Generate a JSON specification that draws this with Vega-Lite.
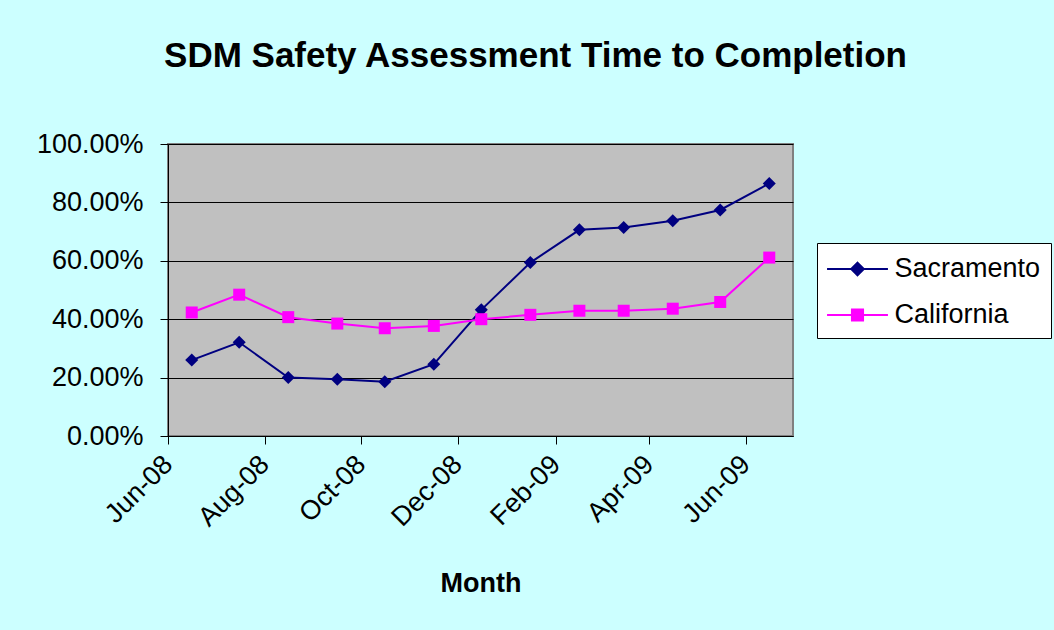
{
  "$schema": "https://vega.github.io/schema/vega-lite/v6.json",
  "width": 625,
  "height": 292,
  "autosize": {"type": "none"},
  "padding": {"left": 168, "top": 144, "right": 261, "bottom": 194},
  "background": "#CCFFFF",
  "title": {
    "text": "SDM Safety Assessment Time to Completion",
    "font": "Liberation Sans",
    "fontSize": 35,
    "fontWeight": "bold",
    "color": "black",
    "anchor": "middle",
    "frame": "group",
    "baseline": "alphabetic",
    "offset": 28,
    "dx": 55
  },
  "data": {
    "values": [
      {"month": "2008-06-16T00:00:00", "region": "Sacramento", "pct": 0.260},
      {"month": "2008-07-16T00:00:00", "region": "Sacramento", "pct": 0.321},
      {"month": "2008-08-16T00:00:00", "region": "Sacramento", "pct": 0.200},
      {"month": "2008-09-16T00:00:00", "region": "Sacramento", "pct": 0.194},
      {"month": "2008-10-16T00:00:00", "region": "Sacramento", "pct": 0.186},
      {"month": "2008-11-16T00:00:00", "region": "Sacramento", "pct": 0.246},
      {"month": "2008-12-16T00:00:00", "region": "Sacramento", "pct": 0.432},
      {"month": "2009-01-16T00:00:00", "region": "Sacramento", "pct": 0.594},
      {"month": "2009-02-16T00:00:00", "region": "Sacramento", "pct": 0.706},
      {"month": "2009-03-16T00:00:00", "region": "Sacramento", "pct": 0.714},
      {"month": "2009-04-16T00:00:00", "region": "Sacramento", "pct": 0.737},
      {"month": "2009-05-16T00:00:00", "region": "Sacramento", "pct": 0.774},
      {"month": "2009-06-16T00:00:00", "region": "Sacramento", "pct": 0.865},
      {"month": "2008-06-16T00:00:00", "region": "California", "pct": 0.423},
      {"month": "2008-07-16T00:00:00", "region": "California", "pct": 0.484},
      {"month": "2008-08-16T00:00:00", "region": "California", "pct": 0.407},
      {"month": "2008-09-16T00:00:00", "region": "California", "pct": 0.385},
      {"month": "2008-10-16T00:00:00", "region": "California", "pct": 0.369},
      {"month": "2008-11-16T00:00:00", "region": "California", "pct": 0.377},
      {"month": "2008-12-16T00:00:00", "region": "California", "pct": 0.400},
      {"month": "2009-01-16T00:00:00", "region": "California", "pct": 0.415},
      {"month": "2009-02-16T00:00:00", "region": "California", "pct": 0.429},
      {"month": "2009-03-16T00:00:00", "region": "California", "pct": 0.429},
      {"month": "2009-04-16T00:00:00", "region": "California", "pct": 0.436},
      {"month": "2009-05-16T00:00:00", "region": "California", "pct": 0.459},
      {"month": "2009-06-16T00:00:00", "region": "California", "pct": 0.611}
    ]
  },
  "encoding": {
    "x": {
      "field": "month",
      "type": "temporal",
      "title": "Month",
      "scale": {"domain": [{"year": 2008, "month": 6, "date": 1}, {"year": 2009, "month": 7, "date": 1}]},
      "axis": {
        "values": [
          {"year": 2008, "month": 6, "date": 1},
          {"year": 2008, "month": 8, "date": 1},
          {"year": 2008, "month": 10, "date": 1},
          {"year": 2008, "month": 12, "date": 1},
          {"year": 2009, "month": 2, "date": 1},
          {"year": 2009, "month": 4, "date": 1},
          {"year": 2009, "month": 6, "date": 1}
        ],
        "format": "%b-%y",
        "labelAngle": -45,
        "labelAlign": "right",
        "labelBaseline": "middle",
        "labelPadding": 16,
        "labelFontSize": 27,
        "labelFont": "Liberation Sans",
        "labelColor": "black",
        "tickSize": 8,
        "tickColor": "black",
        "domainColor": "black",
        "grid": false,
        "labelFlush": false,
        "labelOverlap": false,
        "titleFont": "Liberation Sans",
        "titleFontSize": 27,
        "titleFontWeight": "bold",
        "titleColor": "black",
        "titleBaseline": "alphabetic",
        "titleY": 155
      }
    },
    "y": {
      "field": "pct",
      "type": "quantitative",
      "title": null,
      "scale": {"domain": [0, 1], "nice": false, "zero": true},
      "axis": {
        "values": [0, 0.2, 0.4, 0.6, 0.8, 1.0],
        "format": ".2%",
        "labelFontSize": 27,
        "labelFont": "Liberation Sans",
        "labelColor": "black",
        "labelPadding": 17,
        "tickSize": 8,
        "tickColor": "black",
        "domainColor": "black",
        "grid": true,
        "gridColor": "black",
        "gridWidth": 1,
        "gridOpacity": 1
      }
    },
    "color": {
      "field": "region",
      "type": "nominal",
      "scale": {"domain": ["Sacramento", "California"], "range": ["#000080", "#FF00FF"]},
      "legend": {
        "orient": "none",
        "legendX": 649,
        "legendY": 99,
        "title": null,
        "padding": 10,
        "rowPadding": 17,
        "strokeColor": "black",
        "fillColor": "white",
        "labelFont": "Liberation Sans",
        "labelFontSize": 27,
        "labelColor": "black",
        "symbolSize": 900,
        "symbolStrokeWidth": 2,
        "symbolOffset": 14.5,
        "labelOffset": 21,
        "encode": {
          "symbols": {
            "update": {
              "shape": {"signal": "datum.value === 'Sacramento' ? 'M-2.03,0H2.03M0,-0.42L0.42,0L0,0.42L-0.42,0Z' : 'M-2.03,0H2.03M-0.37,-0.37H0.37V0.37H-0.37Z'"},
              "fill": {"signal": "datum.value === 'Sacramento' ? '#000080' : '#FF00FF'"},
              "stroke": {"signal": "datum.value === 'Sacramento' ? '#000080' : '#FF00FF'"},
              "strokeWidth": {"value": 2},
              "opacity": {"value": 1},
              "fillOpacity": {"value": 1},
              "strokeOpacity": {"value": 1}
            }
          }
        }
      }
    }
  },
  "layer": [
    {"mark": {"type": "line", "strokeWidth": 2}},
    {
      "transform": [{"filter": "datum.region === 'Sacramento'"}],
      "mark": {"type": "point", "filled": true, "opacity": 1, "shape": "diamond", "size": 170}
    },
    {
      "transform": [{"filter": "datum.region === 'California'"}],
      "mark": {"type": "point", "filled": true, "opacity": 1, "shape": "square", "size": 144}
    }
  ],
  "config": {
    "view": {"fill": "#C0C0C0", "stroke": "#808080", "strokeWidth": 2}
  }
}
